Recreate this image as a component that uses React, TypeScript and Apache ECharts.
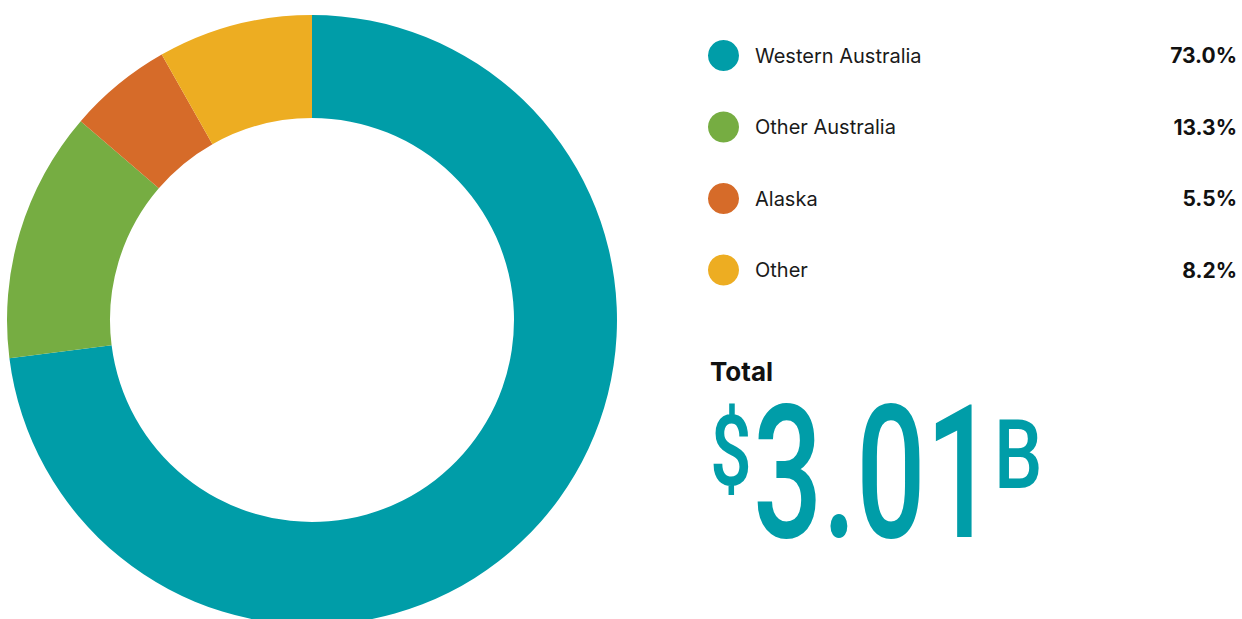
import React, { useEffect, useRef } from "react";
import * as echarts from "echarts";

const categories = ["Western Australia", "Other Australia", "Alaska", "Other"];
const shares = [73.0, 13.3, 5.5, 8.2];
const colors = ["#009DA8", "#76AD42", "#D66B29", "#EDAD22"];
const totalLabel = "Total";
const totalPrefix = "$";
const totalValue = "3.01";
const totalSuffix = "B";

export default function App() {
  const ref = useRef<HTMLDivElement>(null);
  useEffect(() => {
    if (!ref.current) return;
    const chart = echarts.init(ref.current, null, { renderer: "svg" });
    const pctMap: Record<string, string> = {};
    categories.forEach((c, i) => (pctMap[c] = shares[i].toFixed(1) + "%"));
    chart.setOption({
      animation: false,
      color: colors,
      legend: {
        orient: "vertical",
        left: 708,
        top: 40,
        padding: 0,
        itemWidth: 31,
        itemHeight: 31,
        itemGap: 40.5,
        icon: "circle",
        selectedMode: false,
        data: categories,
        formatter: (name: string) => `{n|${name}}{p|${pctMap[name]}}`,
        textStyle: {
          rich: {
            n: {
              fontFamily: "Inter",
              fontSize: 20,
              color: "#1a1a1a",
              width: 320,
              padding: [0, 0, 0, 11],
            },
            p: {
              fontFamily: "Inter",
              fontSize: 21,
              fontWeight: "bold",
              color: "#111",
              width: 162,
              align: "right",
            },
          },
        },
      },
      series: [
        {
          type: "pie",
          center: [312, 320],
          radius: [202, 305],
          startAngle: 90,
          clockwise: true,
          label: { show: false },
          labelLine: { show: false },
          emphasis: { disabled: true },
          itemStyle: { borderWidth: 0 },
          data: categories.map((c, i) => ({ name: c, value: shares[i] })),
        },
      ],
      graphic: [
        {
          type: "text",
          x: 710,
          y: 371,
          style: {
            text: totalLabel,
            fontFamily: "Inter",
            fontWeight: "bold",
            fontSize: 26,
            fill: "#111",
            verticalAlign: "middle",
          },
        },
        {
          type: "text",
          x: 710,
          y: 452,
          scaleX: 0.75,
          style: {
            text: totalPrefix,
            fontFamily: "Roboto",
            fontWeight: 500,
            fontSize: 98,
            fill: "#009DA8",
            verticalAlign: "middle",
          },
        },
        {
          type: "text",
          x: 753,
          y: 474,
          scaleX: 0.66,
          style: {
            text: totalValue,
            fontFamily: "Roboto",
            fontWeight: 500,
            fontSize: 185,
            fill: "#009DA8",
            verticalAlign: "middle",
          },
        },
        {
          type: "text",
          x: 994,
          y: 455,
          scaleX: 0.8,
          style: {
            text: totalSuffix,
            fontFamily: "Roboto",
            fontWeight: 500,
            fontSize: 96,
            fill: "#009DA8",
            verticalAlign: "middle",
          },
        },
      ],
    });
    return () => chart.dispose();
  }, []);
  return (
    <div
      ref={ref}
      style={{ position: "fixed", left: 0, top: 0, width: 1242, height: 619, background: "#fff" }}
    />
  );
}
